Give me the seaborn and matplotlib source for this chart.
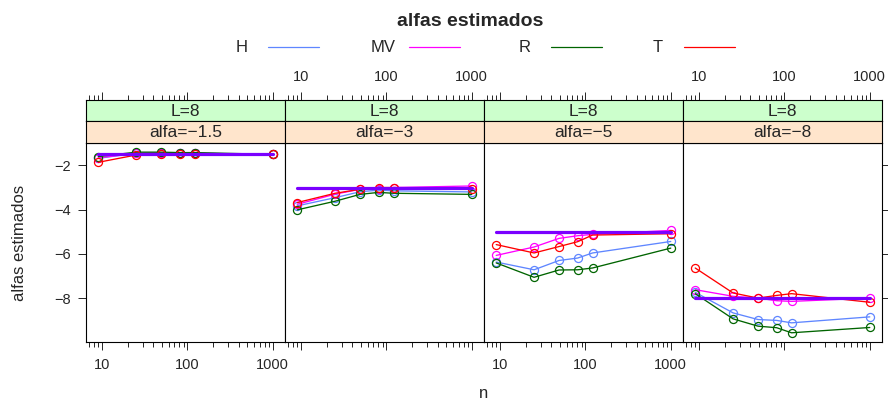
"""
Estimated alpha values by sample size n, one panel per true alpha (L=8),
drawn in the style of an R lattice xyplot.
"""

import matplotlib
matplotlib.use("Agg")
import matplotlib.pyplot as plt
from matplotlib.lines import Line2D
from matplotlib.ticker import FixedLocator, FuncFormatter, LogLocator, NullFormatter
import numpy as np
import pandas as pd
import seaborn as sns

# ---- data ------------------------------------------------------------------
n_values = [9, 25, 49, 81, 121, 1000]
alfa_true = [-1.5, -3, -5, -8]
strip_L = ["L=8", "L=8", "L=8", "L=8"]
methods = ["H", "MV", "R", "T"]

est_H = [
    [-1.68, -1.45, -1.44, -1.45, -1.45, -1.50],
    [-3.83, -3.46, -3.19, -3.12, -3.15, -3.20],
    [-6.37, -6.72, -6.30, -6.19, -5.96, -5.44],
    [-7.74, -8.67, -8.97, -9.01, -9.12, -8.85],
]
est_MV = [
    [-1.66, -1.45, -1.43, -1.45, -1.45, -1.50],
    [-3.76, -3.30, -3.08, -3.05, -3.00, -2.93],
    [-6.07, -5.69, -5.30, -5.18, -5.12, -4.94],
    [-7.62, -7.92, -8.00, -8.12, -8.15, -8.00],
]
est_R = [
    [-1.60, -1.40, -1.40, -1.42, -1.42, -1.50],
    [-4.01, -3.62, -3.31, -3.22, -3.26, -3.31],
    [-6.41, -7.06, -6.73, -6.72, -6.64, -5.74],
    [-7.80, -8.94, -9.27, -9.34, -9.57, -9.33],
]
est_T = [
    [-1.86, -1.53, -1.48, -1.48, -1.48, -1.50],
    [-3.68, -3.26, -3.08, -3.00, -3.00, -3.05],
    [-5.58, -5.96, -5.67, -5.45, -5.15, -5.09],
    [-6.64, -7.77, -8.00, -7.88, -7.80, -8.19],
]

y_ticks = [-2, -4, -6, -8]
x_ticks = [10, 100, 1000]

# ---- styling -----------------------------------------------------------------
colors = {"H": "#5f86ff", "MV": "#ff00ff", "R": "#006400", "T": "#ff0000"}
true_color = "#7a00ff"
strip_top_color = "#ccffcc"
strip_bottom_color = "#ffe5cc"

sns.set_style("white")
plt.rcParams["font.family"] = ["Liberation Sans", "DejaVu Sans"]

W, H = 888, 403


def fx(px):
    return px / W


def fy(py):
    return 1 - py / H


def build_frame():
    rows = []
    series = {"H": est_H, "MV": est_MV, "R": est_R, "T": est_T}
    for p, alfa in enumerate(alfa_true):
        for m in methods:
            for n, v in zip(n_values, series[m][p]):
                rows.append({"panel": p, "metodo": m, "n": n, "alfa_est": v})
    return pd.DataFrame(rows)


df = build_frame()

# lattice-like padding of 7% on the log range
lo, hi = np.log10(min(n_values)), np.log10(max(n_values))
pad = 0.07 * (hi - lo)
xlim = (10 ** (lo - pad), 10 ** (hi + pad))
ylim = (-10.0, -1.0)

fig = plt.figure(figsize=(W / 100, H / 100), dpi=100)

panel_left, panel_w = 86, 199
panel_top, panel_bottom = 143.3, 342.3
strip_mid, strip_top = 121.3, 99.5

fmt = FuncFormatter(lambda v, p: f"{v:g}")


def style_xaxis(ax):
    ax.set_xscale("log")
    ax.set_xlim(xlim)
    ax.xaxis.set_major_locator(FixedLocator(x_ticks))
    ax.xaxis.set_major_formatter(fmt)
    ax.xaxis.set_minor_locator(LogLocator(base=10, subs=np.arange(2, 10)))
    ax.xaxis.set_minor_formatter(NullFormatter())
    ax.tick_params(axis="x", which="major", length=6, width=0.7, labelsize=10.5, pad=5)
    ax.tick_params(axis="x", which="minor", length=3.5, width=0.7)


for p, alfa in enumerate(alfa_true):
    x0 = panel_left + p * panel_w
    ax = fig.add_axes([fx(x0), fy(panel_bottom), fx(panel_w), (panel_bottom - panel_top) / H])
    style_xaxis(ax)

    sub = df[df["panel"] == p]
    sns.lineplot(
        data=sub, x="n", y="alfa_est", hue="metodo", hue_order=methods,
        palette=colors, marker="o", markersize=5.8, linewidth=0.95,
        errorbar=None, legend=False, ax=ax,
    )
    for line in ax.lines:
        line.set_markerfacecolor("none")
        line.set_markeredgecolor(line.get_color())
        line.set_markeredgewidth(0.9)

    # true alpha as a thick line across the observed n
    sns.lineplot(
        x=[min(n_values), max(n_values)], y=[alfa, alfa],
        color=true_color, linewidth=2.3, ax=ax,
    )

    ax.set_ylim(ylim)
    ax.set_xlabel("")
    ax.set_ylabel("")
    ax.set_yticks(y_ticks)
    ax.tick_params(axis="y", length=6, width=0.7, labelsize=10.5, pad=5,
                   left=(p == 0), labelleft=(p == 0),
                   right=(p == 3), labelright=False)
    ax.tick_params(axis="x", which="both", bottom=True, top=False,
                   labelbottom=(p % 2 == 0))
    for s in ax.spines.values():
        s.set_color("black")
        s.set_linewidth(0.8)

    # strips: upper (L) carries the top axis ticks, lower shows alfa
    sa = fig.add_axes([fx(x0), fy(strip_mid), fx(panel_w), (strip_mid - strip_top) / H])
    sa.set_facecolor(strip_top_color)
    style_xaxis(sa)
    sa.set_yticks([])
    sa.tick_params(axis="x", which="both", bottom=False, labelbottom=False,
                   top=True, labeltop=(p % 2 == 1))
    sa.text(0.5, 0.47, strip_L[p], transform=sa.transAxes, ha="center",
            va="center", fontsize=12.5)

    sb = fig.add_axes([fx(x0), fy(panel_top), fx(panel_w), (panel_top - strip_mid) / H])
    sb.set_facecolor(strip_bottom_color)
    sb.set_xticks([])
    sb.set_yticks([])
    sb.text(0.5, 0.47, f"alfa={alfa:g}".replace("-", "\u2212"),
            transform=sb.transAxes, ha="center", va="center", fontsize=12.5)
    for a in (sa, sb):
        for s in a.spines.values():
            s.set_color("black")
            s.set_linewidth(0.8)

# ---- titles, labels and key -------------------------------------------------
fig.text(fx(470), fy(22), "alfas estimados", ha="center", va="center",
         fontsize=14, fontweight="bold")
fig.text(fx(20), fy(243), "alfas estimados", ha="center", va="center",
         rotation=90, fontsize=12)
fig.text(fx(484), fy(394), "n", ha="center", va="center", fontsize=12)

key_text_x = [242, 383, 525, 658]
for m, tx in zip(methods, key_text_x):
    fig.text(fx(tx), fy(48), m, ha="center", va="center", fontsize=12)
    fig.add_artist(Line2D([fx(tx + 26), fx(tx + 77)], [fy(47), fy(47)],
                          color=colors[m], linewidth=0.9, transform=fig.transFigure))

fig.savefig("out.png", dpi=100, facecolor="white")
